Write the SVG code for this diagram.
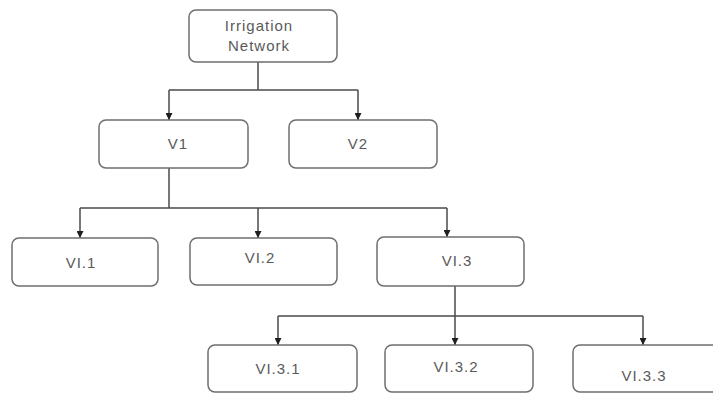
<svg xmlns="http://www.w3.org/2000/svg" width="713" height="394" viewBox="0 0 713 394">
  <style>
    .box { fill: #ffffff; stroke: #6e6e6e; stroke-width: 1.5; }
    .lbl { font-family: "Liberation Sans", Arial, sans-serif; font-size: 15px; fill: #5a5a5a; text-anchor: middle; letter-spacing: 1px; }
    .wire { fill: none; stroke: #4a4a4a; stroke-width: 1.5; }
  </style>
  <defs>
    <marker id="arrow" viewBox="0 0 10 10" refX="10" refY="5" markerWidth="7" markerHeight="7" markerUnits="userSpaceOnUse" orient="auto">
      <path d="M0,0 L10,5 L0,10 Z" fill="#1e1e1e"/>
    </marker>
  </defs>
  <rect width="713" height="394" fill="#ffffff"/>

  <g id="connectors">
    <!-- root to level 1 -->
    <path class="wire" d="M258,62 V90"/>
    <path class="wire" d="M169,90 H358"/>
    <path class="wire" d="M169,90 V120" marker-end="url(#arrow)"/>
    <path class="wire" d="M358,90 V120" marker-end="url(#arrow)"/>
    <!-- V1 to its children -->
    <path class="wire" d="M169,168 V208"/>
    <path class="wire" d="M80,208 H447"/>
    <path class="wire" d="M80,208 V238" marker-end="url(#arrow)"/>
    <path class="wire" d="M258,208 V238" marker-end="url(#arrow)"/>
    <path class="wire" d="M447,208 V237" marker-end="url(#arrow)"/>
    <!-- VI.3 to its children -->
    <path class="wire" d="M455,286 V345" marker-end="url(#arrow)"/>
    <path class="wire" d="M278,316 H643"/>
    <path class="wire" d="M278,316 V345" marker-end="url(#arrow)"/>
    <path class="wire" d="M643,316 V345" marker-end="url(#arrow)"/>
  </g>

  <g id="irrigation-network">
    <rect class="box" x="189" y="10" width="148" height="52" rx="7"/>
    <text class="lbl" x="259" y="31">Irrigation</text>
    <text class="lbl" x="259" y="51">Network</text>
  </g>
  <g id="v1">
    <rect class="box" x="99" y="120" width="149" height="48" rx="7"/>
    <text class="lbl" x="178" y="149">V1</text>
  </g>
  <g id="v2">
    <rect class="box" x="289" y="120" width="148" height="48" rx="7"/>
    <text class="lbl" x="358" y="149">V2</text>
  </g>
  <g id="vi-1">
    <rect class="box" x="12" y="238" width="146" height="48" rx="7"/>
    <text class="lbl" x="81" y="268">VI.1</text>
  </g>
  <g id="vi-2">
    <rect class="box" x="190" y="238" width="147" height="47" rx="7"/>
    <text class="lbl" x="260" y="263">VI.2</text>
  </g>
  <g id="vi-3">
    <rect class="box" x="377" y="237" width="147" height="49" rx="7"/>
    <text class="lbl" x="457" y="266">VI.3</text>
  </g>
  <g id="vi-3-1">
    <rect class="box" x="208" y="345" width="149" height="47" rx="7"/>
    <text class="lbl" x="278" y="374">VI.3.1</text>
  </g>
  <g id="vi-3-2">
    <rect class="box" x="385" y="345" width="148" height="47" rx="7"/>
    <text class="lbl" x="456" y="372">VI.3.2</text>
  </g>
  <g id="vi-3-3">
    <rect class="box" x="573" y="345" width="148" height="47" rx="7"/>
    <text class="lbl" x="644" y="381">VI.3.3</text>
  </g>
</svg>
